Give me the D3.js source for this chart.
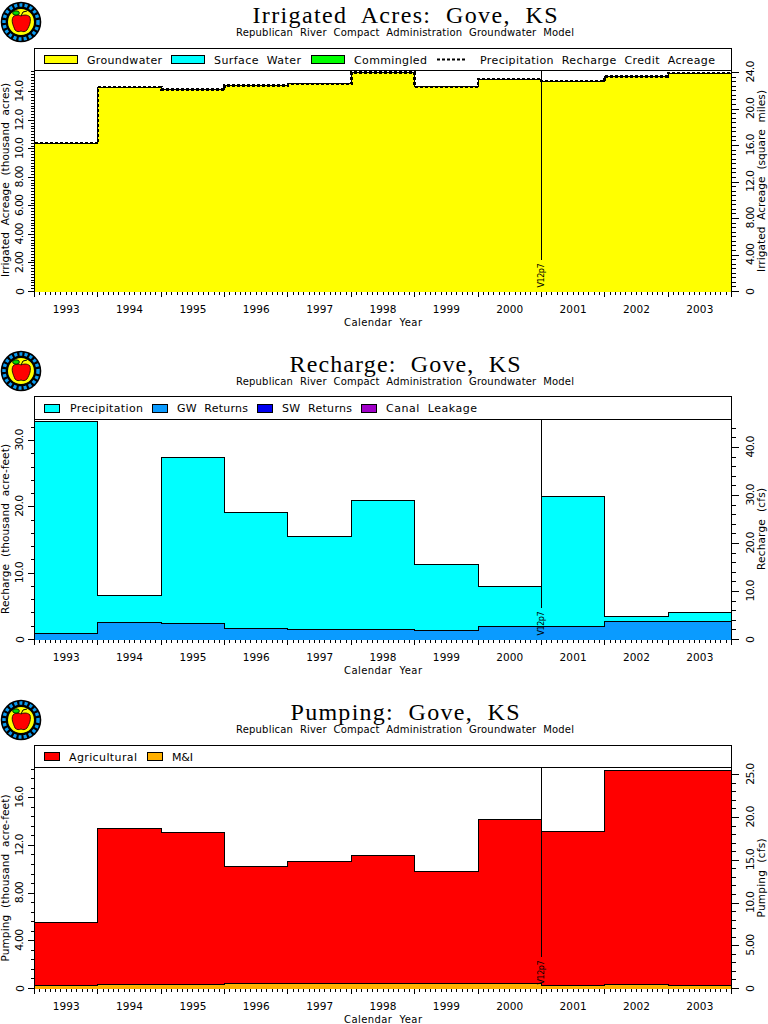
<!DOCTYPE html>
<html><head><meta charset="utf-8">
<script src="https://d3js.org/d3.v7.min.js"></script>
<style>html,body{margin:0;padding:0;background:#fff}svg{display:block}text{fill:#000;text-rendering:optimizeSpeed}</style>
</head><body><div id="c"></div>
<script>
const years=[1993,1994,1995,1996,1997,1998,1999,2000,2001,2002,2003];
const yearLabels=years.map(String);
const groundwater=[10.4,14.33,14.17,14.45,14.56,15.36,14.35,14.9,14.75,15.06,15.32];
const precipCredit=[10.4,14.33,14.17,14.45,14.56,15.36,14.35,14.9,14.75,15.06,15.32];
const gwReturns=[0.95,2.6,2.46,1.7,1.56,1.56,1.4,2.0,2.0,2.76,2.76];
const rechargeTotal=[32.9,6.68,27.5,19.2,15.5,21.0,11.36,8.04,21.6,3.52,4.12];
const mAndI=[0.25,0.34,0.34,0.42,0.42,0.42,0.42,0.42,0.25,0.34,0.25];
const pumpingTotal=[5.54,13.43,13.12,10.24,10.66,11.16,9.82,14.18,13.17,18.29,18.29];
const acresLeftTicks=[0,2,4,6,8,10,12,14], acresLeftLabels=["0","2.00","4.00","6.00","8.00","10.0","12.0","14.0"];
const acresRightTicks=[0,4,8,12,16,20,24], acresRightLabels=["0","4.00","8.00","12.0","16.0","20.0","24.0"];
const rechLeftTicks=[0,10,20,30], rechLeftLabels=["0","10.0","20.0","30.0"];
const rechRightTicks=[0,10,20,30,40], rechRightLabels=["0","10.0","20.0","30.0","40.0"];
const pumpLeftTicks=[0,4,8,12,16], pumpLeftLabels=["0","4.00","8.00","12.0","16.0"];
const pumpRightTicks=[0,5,10,15,20,25], pumpRightLabels=["0","5.00","10.0","15.0","20.0","25.0"];

const W=768,H=1024,X0=34.5,X1=731.5;
const svg=d3.select("#c").append("svg").attr("width",W).attr("height",H).attr("viewBox",[0,0,W,H]);
const x=d3.scaleLinear().domain([1993,2004]).range([X0,X1]);
const SANS="'DejaVu Sans'",SERIF="'Liberation Serif'";
function txt(g,s,px,py,size,len,opt={}){
  const t=g.append("text").attr("x",px).attr("y",py).text(s).attr("font-size",size)
    .attr("font-family",opt.family||SANS).attr("text-anchor",opt.anchor||"middle")
    .attr("xml:space","preserve");
  if(opt.rot!=null)t.attr("transform",`rotate(${opt.rot} ${px} ${py})`);
  if(len)t.attr("textLength",len).attr("lengthAdjust","spacing");
  if(opt.weight)t.attr("font-weight",opt.weight);
  return t;
}
function stepArea(y,top,bottom){
  return d3.area().curve(d3.curveStepAfter).x(d=>x(d.t)).y1(d=>y(d.top)).y0(d=>y(d.base))
    (years.concat([2004]).map((t,i)=>{const k=Math.min(i,years.length-1);return{t,top:top[k],base:bottom?bottom[k]:0};}));
}
function stepLine(y,v){
  return d3.line().curve(d3.curveStepAfter).x(d=>x(d.t)).y(d=>y(d.v))
    (years.concat([2004]).map((t,i)=>({t,v:v[Math.min(i,years.length-1)]})));
}
function logo(cx,cy){
  const g=svg.append("g").attr("transform",`translate(${cx},${cy})`);
  g.append("circle").attr("r",20.3).attr("fill","#000");
  g.append("circle").attr("r",17).attr("fill","none").attr("stroke","#0a9bf0").attr("stroke-width",3.4).attr("stroke-dasharray","3 2.2");
  g.append("circle").attr("r",13.6).attr("fill","#ff0").attr("stroke","#000").attr("stroke-width",1.2);
  g.append("path").attr("d","M-8,-5 C-5,-8 -2,-7 0,-6 C2,-7 6,-8 9,-5 C10,-1 9,3 6,8 C4,10 2,10 0,9 C-2,10 -4,10 -6,8 C-8,3 -10,-1 -8,-5Z").attr("fill","#f00").attr("stroke","#000").attr("stroke-width",.8);
  g.append("ellipse").attr("cx",-5).attr("cy",-9).attr("rx",3.4).attr("ry",2.2).attr("fill","#0d0").attr("stroke","#000").attr("stroke-width",.8);
  g.append("path").attr("d","M0,-6 L2,-10 L6,-11").attr("fill","none").attr("stroke","#000").attr("stroke-width",1);
}
function vAxis(y,side,ticks,labels,minorStep,max,labelLen){
  const px=side<0?X0:X1;
  const g=svg.append("g").attr("shape-rendering","crispEdges");
  g.append("line").attr("x1",px).attr("x2",px).attr("y1",y(0)).attr("y2",y.range()[1]).attr("stroke","#000");
  d3.range(0,max+1e-6,minorStep).forEach(v=>{
    g.append("line").attr("x1",px).attr("x2",px+side*4).attr("y1",y(v)).attr("y2",y(v)).attr("stroke","#000");
  });
  ticks.forEach(v=>g.append("line").attr("x1",px).attr("x2",px+side*7).attr("y1",y(v)).attr("y2",y(v)).attr("stroke","#000"));
  const lx=side<0?23.5:754;
  ticks.forEach((v,i)=>{
    const s=labels[i];
    txt(svg,s,lx,y(v)-(s==="0"?0:1),11,s==="0"?null:labelLen,{rot:-90});
  });
}
function panel(p){
  logo(21,p.logoY);
  txt(svg,p.title,p.titleX,p.titleY,24,p.titleLen,{family:SERIF});
  txt(svg,"Republican  River  Compact  Administration  Groundwater  Model",405,p.titleY+13,10,338);
  const yL=d3.scaleLinear().domain([0,p.lMax]).range([p.bottom,p.top]);
  const yR=d3.scaleLinear().domain([0,p.rMax]).range([p.bottom,p.top]);
  p.draw(yL);
  const vline=svg.append("g").attr("shape-rendering","crispEdges");
  vline.append("line").attr("x1",x(2001)).attr("x2",x(2001)).attr("y1",p.top).attr("y2",p.bottom-32).attr("stroke","#000");
  txt(svg,"V12p7",x(2001)+3,p.bottom-4,8,24,{rot:-90,anchor:"start"});
  // legend box
  svg.append("rect").attr("x",X0).attr("y",p.legTop).attr("width",X1-X0).attr("height",p.top-p.legTop)
    .attr("fill","#fff").attr("stroke","#000").attr("shape-rendering","crispEdges");
  const ly=(p.legTop+p.top)/2;
  p.legend.forEach(l=>{
    if(l.color){
      svg.append("rect").attr("x",l.sx).attr("y",ly-4).attr("width",l.sw).attr("height",8)
        .attr("fill",l.color).attr("stroke","#000").attr("shape-rendering","crispEdges");
    } else {
      svg.append("line").attr("x1",l.sx).attr("x2",l.sx+l.sw).attr("y1",ly).attr("y2",ly)
        .attr("stroke","#000").attr("stroke-width",2).attr("stroke-dasharray","3 2");
    }
    txt(svg,l.name,l.tx,ly+4,11,l.tw,{anchor:"start"});
  });
  vAxis(yL,-1,p.lt,p.ltl,p.lMinor,p.lMax,22);
  vAxis(yR,1,p.rt,p.rtl,p.rMinor,p.rMax,22);
  // x axis ticks and labels
  const g=svg.append("g").attr("shape-rendering","crispEdges");
  d3.range(0,11*12+1).forEach(i=>{
    const v=1993+i/12,maj=i%12===0;
    g.append("line").attr("x1",x(v)).attr("x2",x(v)).attr("y1",p.bottom).attr("y2",p.bottom+(maj?5:3)).attr("stroke","#000");
  });
  years.forEach((yr,i)=>txt(svg,yearLabels[i],x(yr+.5),p.bottom+21,10.5,27));
  txt(svg,"Calendar  Year",383,p.bottom+34,10,78);
  txt(svg,p.lTitle,9,p.lTitleY,10.5,p.lTitleLen,{rot:-90});
  txt(svg,p.rTitle,765,p.rTitleY,10.5,p.rTitleLen,{rot:-90});
}
panel({logoY:22,title:"Irrigated  Acres:  Gove,  KS",titleX:405,titleY:23,titleLen:305,
  legTop:48.5,top:70.5,bottom:291.5,
  lMax:221/14.26,rMax:221/9.125,lt:acresLeftTicks,ltl:acresLeftLabels,rt:acresRightTicks,rtl:acresRightLabels,
  lMinor:.2,rMinor:.5,
  lTitle:"Irrigated  Acreage  (thousand  acres)",lTitleY:180,lTitleLen:194,
  rTitle:"Irrigated  Acreage  (square  miles)",rTitleY:181,rTitleLen:182,
  legend:[{name:"Groundwater",color:"#ff0",sx:44,sw:33,tx:87,tw:75},{name:"Surface  Water",color:"#0ff",sx:171,sw:33,tx:214,tw:87},
   {name:"Commingled",color:"#0f0",sx:311,sw:33,tx:354,tw:73},{name:"Precipitation  Recharge  Credit  Acreage",color:null,sx:437,sw:30,tx:480,tw:235}],
  draw(y){
    svg.append("path").attr("d",stepArea(y,groundwater)).attr("fill","#ff0").attr("shape-rendering","crispEdges");
    svg.append("path").attr("d",stepLine(y,groundwater)).attr("fill","none").attr("stroke","#000").attr("shape-rendering","crispEdges");
    svg.append("path").attr("d",stepLine(y,precipCredit)).attr("fill","none").attr("stroke","#000").attr("stroke-width",2.6).attr("stroke-dasharray","3 2").attr("shape-rendering","crispEdges");
  }});
panel({logoY:371,title:"Recharge:  Gove,  KS",titleX:405,titleY:371.5,titleLen:231,
  legTop:396.5,top:419.5,bottom:639.5,
  lMax:220/6.633,rMax:220/4.8,lt:rechLeftTicks,ltl:rechLeftLabels,rt:rechRightTicks,rtl:rechRightLabels,
  lMinor:2,rMinor:2,
  lTitle:"Recharge  (thousand  acre-feet)",lTitleY:529,lTitleLen:170,
  rTitle:"Recharge  (cfs)",rTitleY:529,rTitleLen:82,
  legend:[{name:"Precipitation",color:"#0ff",sx:44,sw:15,tx:70,tw:73},{name:"GW  Returns",color:"#0a9bff",sx:152,sw:15,tx:177,tw:71},
   {name:"SW  Returns",color:"#0000f0",sx:257,sw:15,tx:282,tw:70},{name:"Canal  Leakage",color:"#a000c8",sx:361,sw:15,tx:386,tw:91}],
  draw(y){
    svg.append("path").attr("d",stepArea(y,rechargeTotal,gwReturns)).attr("fill","#0ff").attr("shape-rendering","crispEdges");
    svg.append("path").attr("d",stepArea(y,gwReturns)).attr("fill","#0a9bff").attr("shape-rendering","crispEdges");
    [rechargeTotal,gwReturns].forEach(v=>svg.append("path").attr("d",stepLine(y,v)).attr("fill","none").attr("stroke","#000").attr("shape-rendering","crispEdges"));
  }});
panel({logoY:720,title:"Pumping:  Gove,  KS",titleX:405,titleY:720,titleLen:229,
  legTop:745.5,top:767.5,bottom:988.5,
  lMax:221/11.92,rMax:221/8.55,lt:pumpLeftTicks,ltl:pumpLeftLabels,rt:pumpRightTicks,rtl:pumpRightLabels,
  lMinor:.8,rMinor:1,
  lTitle:"Pumping  (thousand  acre-feet)",lTitleY:878,lTitleLen:167,
  rTitle:"Pumping  (cfs)",rTitleY:878,rTitleLen:79,
  legend:[{name:"Agricultural",color:"#f00",sx:44,sw:15,tx:69,tw:68},{name:"M&I",color:"#ffb000",sx:147,sw:15,tx:172,tw:21}],
  draw(y){
    svg.append("path").attr("d",stepArea(y,pumpingTotal,mAndI)).attr("fill","#f00").attr("shape-rendering","crispEdges");
    svg.append("path").attr("d",stepArea(y,mAndI)).attr("fill","#ffb000").attr("shape-rendering","crispEdges");
    [pumpingTotal,mAndI].forEach(v=>svg.append("path").attr("d",stepLine(y,v)).attr("fill","none").attr("stroke","#000").attr("shape-rendering","crispEdges"));
  }});
</script></body></html>
